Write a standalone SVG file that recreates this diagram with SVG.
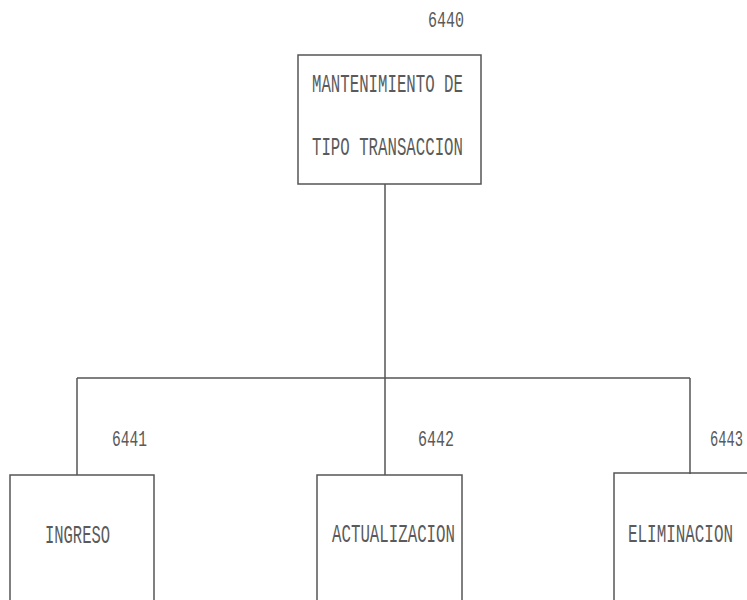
<svg xmlns="http://www.w3.org/2000/svg" width="747" height="600" viewBox="0 0 747 600">
<style>
.box{fill:none;stroke:#555;stroke-width:1.5}
.ln{fill:none;stroke:#555;stroke-width:1.5}
text{font-family:"Liberation Mono","DejaVu Sans Mono",monospace;fill:#5a5a5a;font-size:25px}
.num{font-size:22px}
</style>
<rect width="747" height="600" fill="#fff"/>
<g id="connectors">
<path class="ln" d="M385,184 V378"/>
<path class="ln" d="M77,378 H690"/>
<path class="ln" d="M77,378 V475"/>
<path class="ln" d="M385,378 V475"/>
<path class="ln" d="M690,378 V474"/>
</g>
<g id="n6440">
<text class="num" x="428" y="27" textLength="36" lengthAdjust="spacingAndGlyphs">6440</text>
<rect class="box" x="298" y="55" width="183" height="129"/>
<text x="312" y="92" textLength="151" lengthAdjust="spacingAndGlyphs">MANTENIMIENTO DE</text>
<text x="312" y="155" textLength="151" lengthAdjust="spacingAndGlyphs">TIPO TRANSACCION</text>
</g>
<g id="n6441">
<text class="num" x="112" y="446" textLength="35" lengthAdjust="spacingAndGlyphs">6441</text>
<rect class="box" x="10" y="475" width="144" height="140"/>
<text x="45" y="543" textLength="65" lengthAdjust="spacingAndGlyphs">INGRESO</text>
</g>
<g id="n6442">
<text class="num" x="418" y="446" textLength="36" lengthAdjust="spacingAndGlyphs">6442</text>
<rect class="box" x="317" y="475" width="145" height="140"/>
<text x="332" y="542" textLength="123" lengthAdjust="spacingAndGlyphs">ACTUALIZACION</text>
</g>
<g id="n6443">
<text class="num" x="710" y="446" textLength="33" lengthAdjust="spacingAndGlyphs">6443</text>
<rect class="box" x="614" y="473" width="160" height="140"/>
<text x="628" y="542" textLength="105" lengthAdjust="spacingAndGlyphs">ELIMINACION</text>
</g>
</svg>
